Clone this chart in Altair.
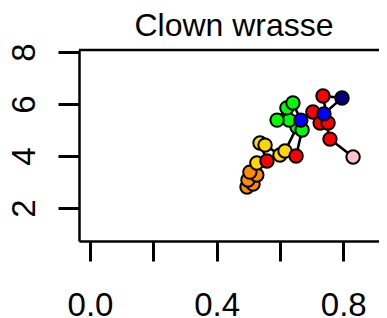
import altair as alt
import pandas as pd

# trajectory values
xs = [0.496, 0.515, 0.499, 0.527, 0.505, 0.527, 0.559, 0.537, 0.553, 0.600, 0.616, 0.654,
      0.651, 0.670, 0.629, 0.591, 0.622, 0.641, 0.666, 0.704, 0.727, 0.752, 0.736, 0.796,
      0.739, 0.758, 0.831]
ys = [2.81, 2.92, 3.08, 3.27, 3.38, 3.73, 3.81, 4.50, 4.42, 4.04, 4.19, 5.12,
      4.00, 5.00, 5.38, 5.38, 5.85, 6.04, 5.38, 5.69, 5.27, 5.27, 6.31, 6.23,
      5.62, 4.65, 3.96]
cols = ["#FF8C00", "#FF8C00", "#FF8C00", "#FF8C00", "#FF8C00", "#FFD700", "#FF0000",
        "#FFD700", "#FFD700", "#FFD700", "#FFD700", "#00FF00",
        "#FF0000", "#00FF00", "#00FF00", "#00FF00", "#00FF00", "#00FF00", "#0000FF",
        "#FF0000", "#FF0000", "#FF0000", "#FF0000", "#000080", "#0000FF", "#FF0000",
        "#FFC0CB"]
seg = ["a"] * 12 + ["b"] * 15
x_ticks = [0.0, 0.2, 0.4, 0.6, 0.8]
y_ticks = [2, 4, 6, 8]
title_text = "Clown wrasse"

df = pd.DataFrame({"x": xs, "y": ys, "col": cols, "seg": seg,
                   "ord": list(range(len(xs)))})

FONT = "Liberation Sans"
W, H = 300, 191   # svg width 71 + 300 = 371 fits the page without shrinking

xscale = alt.Scale(domain=[-0.0347, 0.9129], nice=False, zero=False)
yscale = alt.Scale(domain=[0.731, 8.077], nice=False, zero=False)

xaxis = alt.Axis(values=x_ticks, title=None, grid=False, tickSize=20, tickWidth=3,
                 tickColor="black", domainColor="black", domainWidth=2.5,
                 labelFont=FONT, labelFontSize=33, labelColor="black",
                 labelBaseline="alphabetic", labelPadding=54, labelFlush=False,
                 labelOverlap=False, labelBound=False,
                 labelExpr="round(datum.value*10) % 4 == 0 ? format(datum.value, '.1f') : ''")
yaxis = alt.Axis(values=y_ticks, title=None, grid=False, tickSize=21, tickWidth=3,
                 tickColor="black", domainColor="black", domainWidth=2.5,
                 labelFont=FONT, labelFontSize=33, labelColor="black",
                 labelAngle=270, labelAlign="center", labelBaseline="alphabetic",
                 labelPadding=23.5, labelFlush=False, labelOverlap=False, labelBound=False)

base = alt.Chart(df)

lines = base.mark_line(color="black", strokeWidth=2.6).encode(
    x=alt.X("x:Q", scale=xscale, axis=xaxis),
    y=alt.Y("y:Q", scale=yscale, axis=yaxis),
    detail="seg:N",
    order="ord:Q",
)

points = base.mark_circle(size=180, opacity=1, stroke="black", strokeWidth=2).encode(
    x=alt.X("x:Q", scale=xscale),
    y=alt.Y("y:Q", scale=yscale),
    color=alt.Color("col:N", scale=None),
    order="ord:Q",
)

one = alt.Chart(pd.DataFrame({"t": [title_text]}))

top_border = one.mark_rule(color="black", strokeWidth=2.5).encode(
    x=alt.value(0), x2=alt.value(W), y=alt.value(0))

title = one.mark_text(font=FONT, fontSize=32, color="black", align="center",
                      baseline="alphabetic").encode(
    text="t:N", x=alt.value(155), y=alt.value(-14.5))

chart = alt.layer(lines, points, top_border, title).properties(
    width=W, height=H,
    autosize=alt.AutoSizeParams(type="none"),
    padding={"left": 71, "top": 42, "right": 0, "bottom": 77},
).configure_view(stroke=None).configure(background="white")

chart.save("out.html", embed_options={"renderer": "svg", "actions": False})
